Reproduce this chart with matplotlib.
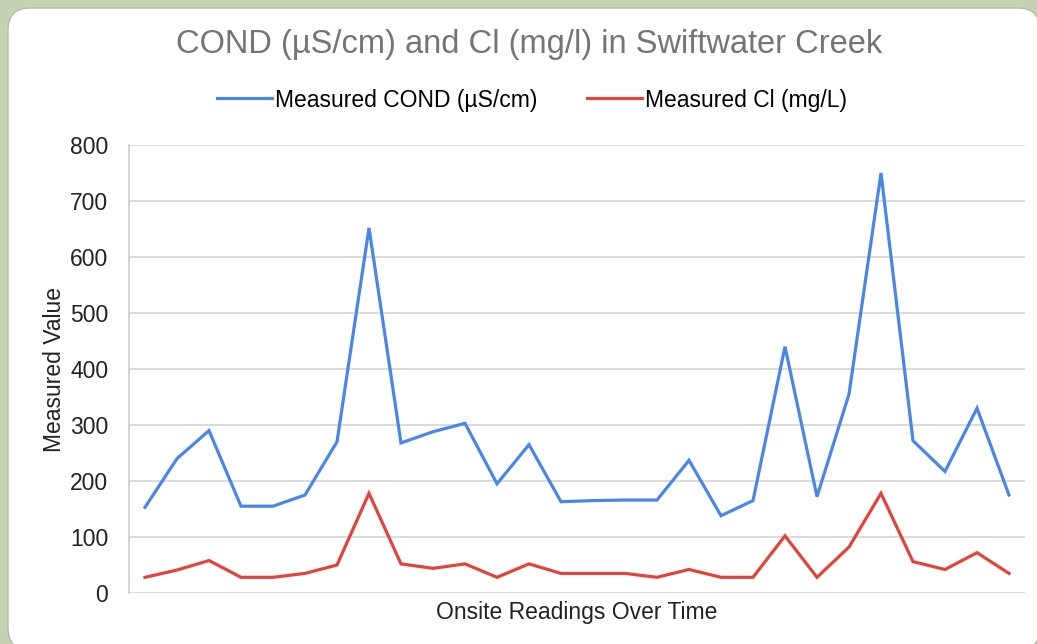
import numpy as np
import matplotlib
matplotlib.use("Agg")
import matplotlib.pyplot as plt
from matplotlib.patches import FancyBboxPatch
from matplotlib.transforms import IdentityTransform

plt.rcParams['font.family'] = ['Liberation Sans', 'DejaVu Sans']

# Lecturas en sitio (28 puntos)
cond = [153, 240, 290, 155, 155, 175, 270, 652, 268, 288, 303, 195, 265, 163,
        165, 166, 166, 237, 138, 165, 440, 172, 355, 750, 272, 217, 330, 175]
cl = [28, 41, 58, 28, 28, 35, 50, 178, 52, 44, 52, 28, 52, 35,
      35, 35, 28, 42, 28, 28, 102, 28, 82, 178, 56, 42, 72, 35]
yticks = [0, 100, 200, 300, 400, 500, 600, 700, 800]

W, H = 1037, 644
fig = plt.figure(figsize=(W / 100, H / 100), dpi=100)
fig.patch.set_facecolor('#c5d3b3')

# Panel blanco redondeado (coordenadas en pixeles, origen abajo)
panel = FancyBboxPatch((8, -6), 1040 - 8, H - 8 + 6,
                       boxstyle="round,pad=0,rounding_size=22",
                       transform=IdentityTransform(), facecolor='white',
                       edgecolor='#b0bca3', linewidth=1.0, zorder=-10)
fig.patches.append(panel)

ax = fig.add_axes([129 / W, 1 - 593 / H, (1025 - 129) / W, (593 - 145) / H])
ax.set_facecolor('none')

x = np.arange(len(cond))
ax.plot(x, cond, color='#4a86e8', linewidth=2.3, label='Measured COND (µS/cm)', solid_joinstyle='miter')
ax.plot(x, cl, color='#e0443a', linewidth=2.3, label='Measured Cl (mg/L)', solid_joinstyle='miter')

ax.set_xlim(-0.5, len(cond) - 0.5)
ax.set_ylim(0, 800)
ax.set_yticks(yticks)
ax.set_xticks([])
ax.tick_params(axis='y', length=0, pad=15, labelsize=16.5, colors='#222222')
ax.grid(axis='y', color='#d9d9d9', linewidth=1.3)
ax.set_axisbelow(True)
for s in ['top', 'right', 'bottom']:
    ax.spines[s].set_visible(False)
ax.spines['left'].set_color('#d0d0d0')
ax.spines['left'].set_linewidth(1.3)

ax.set_ylabel('Measured Value', fontsize=16.5, color='#222222', labelpad=3)
ax.set_xlabel('Onsite Readings Over Time', fontsize=16.5, color='#222222', labelpad=6)

fig.text(529 / W, 1 - 45 / H, 'COND (µS/cm) and Cl (mg/l) in Swiftwater Creek',
         ha='center', va='center', fontsize=23.5, color='#757575')

fig.legend(loc='center', bbox_to_anchor=(532 / W, 1 - 100 / H), ncol=2,
           frameon=False, fontsize=16.5, handlelength=2.4, handletextpad=0.1,
           columnspacing=2.2)

fig.savefig('out.png', dpi=100, facecolor=fig.get_facecolor())
